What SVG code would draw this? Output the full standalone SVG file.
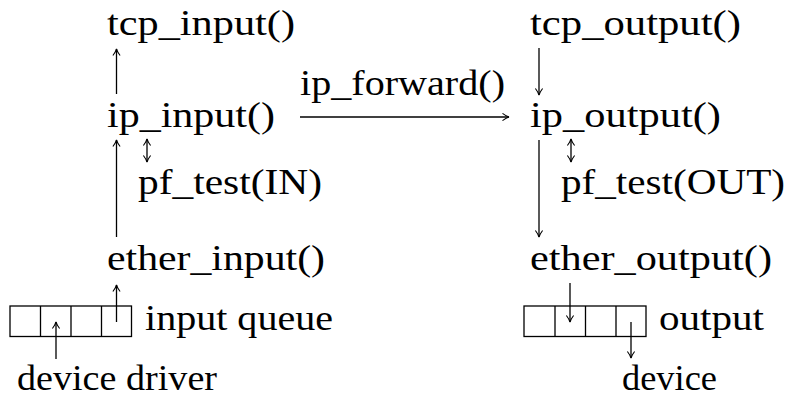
<svg xmlns="http://www.w3.org/2000/svg" width="788" height="398" viewBox="0 0 788 398">
<style>
text{font-family:"Liberation Serif","DejaVu Serif",serif;font-size:36px;fill:#000}
.ln{stroke:#000;stroke-width:1.3;fill:none}
.q{stroke:#000;stroke-width:1.3;fill:none}
</style>
<defs>
<marker id="ah" viewBox="-8 -5 10 10" markerWidth="10" markerHeight="10" refX="0" refY="0" orient="auto" markerUnits="userSpaceOnUse">
<path d="M-6.5,-3.6 Q-2.5,-0.6 0,0 Q-2.5,0.6 -6.5,3.6" stroke="#000" stroke-width="1.1" fill="none"/>
</marker>
<marker id="as" viewBox="-8 -5 10 10" markerWidth="10" markerHeight="10" refX="0" refY="0" orient="auto-start-reverse" markerUnits="userSpaceOnUse">
<path d="M-6.5,-3.6 Q-2.5,-0.6 0,0 Q-2.5,0.6 -6.5,3.6" stroke="#000" stroke-width="1.1" fill="none"/>
</marker>
</defs>
<g id="tcp_input"><text x="107" y="35" textLength="188" lengthAdjust="spacingAndGlyphs">tcp_input()</text></g>
<g id="tcp_output"><text x="530" y="35" textLength="211" lengthAdjust="spacingAndGlyphs">tcp_output()</text></g>
<g id="ip_forward"><text x="300" y="95" textLength="205" lengthAdjust="spacingAndGlyphs">ip_forward()</text></g>
<g id="ip_input"><text x="107" y="127" textLength="168" lengthAdjust="spacingAndGlyphs">ip_input()</text></g>
<g id="ip_output"><text x="530" y="127" textLength="191" lengthAdjust="spacingAndGlyphs">ip_output()</text></g>
<g id="pf_test_in"><text x="138" y="194" textLength="184" lengthAdjust="spacingAndGlyphs">pf_test(IN)</text></g>
<g id="pf_test_out"><text x="561" y="194" textLength="224" lengthAdjust="spacingAndGlyphs">pf_test(OUT)</text></g>
<g id="ether_input"><text x="107" y="270" textLength="218" lengthAdjust="spacingAndGlyphs">ether_input()</text></g>
<g id="ether_output"><text x="530" y="270" textLength="242" lengthAdjust="spacingAndGlyphs">ether_output()</text></g>
<g id="input_queue">
<rect class="q" x="10" y="306" width="121.5" height="30.5"/>
<path class="q" d="M40.5,306V336.5M71,306V336.5M101.5,306V336.5"/>
<text x="145" y="330" textLength="188" lengthAdjust="spacingAndGlyphs">input queue</text>
</g>
<g id="output_queue">
<rect class="q" x="524" y="306" width="122" height="30.5"/>
<path class="q" d="M555,306V336.5M585.5,306V336.5M616,306V336.5"/>
<text x="659" y="330" textLength="105" lengthAdjust="spacingAndGlyphs">output</text>
</g>
<g id="device_driver"><text x="17" y="390" textLength="200" lengthAdjust="spacingAndGlyphs">device driver</text></g>
<g id="device"><text x="622" y="390" textLength="95" lengthAdjust="spacingAndGlyphs">device</text></g>
<g id="connectors">
<path class="ln" d="M116.5,94V49" marker-end="url(#ah)"/>
<path class="ln" d="M539,48V95" marker-end="url(#ah)"/>
<path class="ln" d="M300,117H509" marker-end="url(#ah)"/>
<path class="ln" d="M147,139V162" marker-start="url(#as)" marker-end="url(#as)"/>
<path class="ln" d="M571,139V162" marker-start="url(#as)" marker-end="url(#as)"/>
<path class="ln" d="M116.5,237V140" marker-end="url(#ah)"/>
<path class="ln" d="M539,140V237" marker-end="url(#ah)"/>
<path class="ln" d="M116.5,322V285" marker-end="url(#ah)"/>
<path class="ln" d="M570,283V322" marker-end="url(#ah)"/>
<path class="ln" d="M631,322V358" marker-end="url(#ah)"/>
<path class="ln" d="M56,359V322" marker-end="url(#ah)"/>
</g>
</svg>
